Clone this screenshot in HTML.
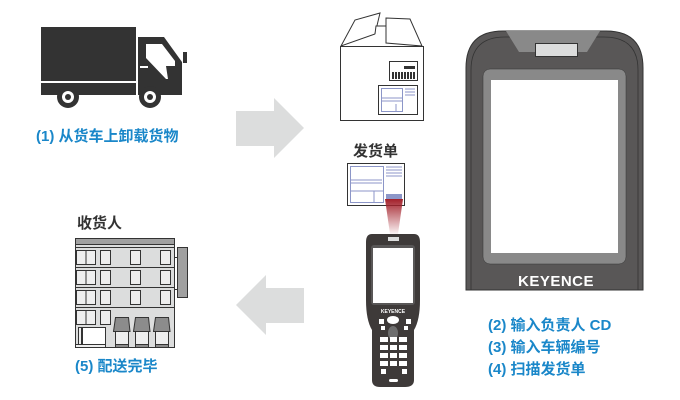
<!DOCTYPE html>
<html><head><meta charset="utf-8"><style>
html,body{margin:0;padding:0;background:#fff;}
svg{display:block}
text{font-family:"Liberation Sans","Noto Sans CJK SC",sans-serif;font-weight:bold;}
</style></head><body>
<svg width="680" height="400" viewBox="0 0 680 400" xmlns="http://www.w3.org/2000/svg">
<!-- Truck -->
<rect x="41" y="27" width="95" height="54" fill="#333"/>
<rect x="41" y="83" width="95" height="12" fill="#333"/>
<path d="M138 37 H164 L182 62 V95 H138 Z" fill="#333"/>
<rect x="183" y="52" width="4" height="11" fill="#333"/>
<path d="M146 44 H162 L175 61 V66 H166 L168 79 H166 L146 58 Z" fill="#fff"/>
<rect x="140" y="66" width="8" height="2" fill="#fff"/>
<circle cx="68" cy="97" r="11" fill="#333"/>
<circle cx="68" cy="97" r="6" fill="#fff"/><circle cx="68" cy="97" r="3" fill="#333"/>
<circle cx="150" cy="97" r="11" fill="#333"/>
<circle cx="150" cy="97" r="6" fill="#fff"/><circle cx="150" cy="97" r="3" fill="#333"/>
<text x="36" y="141" font-size="15" fill="#1a87c9">(1) 从货车上卸载货物</text>

<!-- Arrows -->
<path d="M236 111 H274 V98 L304 128 L274 158 V146 H236 Z" fill="#dcdddd"/>
<path d="M304 288 H266 V275 L236 305 L266 335 V323 H304 Z" fill="#dcdddd"/>

<!-- Box -->
<g stroke="#333" stroke-width="1" fill="#fff">
<path d="M341 46 L355 20 L380 13 L375 34 Z"/>
<path d="M386 18 L410 19 L422 46 L386 43 Z"/>
<path d="M375 34 L376 26 L386 26 L386 43"/>
<rect x="340.5" y="46.5" width="83" height="74"/>
<rect x="389.5" y="61.5" width="28" height="19"/>
<rect x="378.5" y="85.5" width="39" height="29"/>
</g>
<g fill="#333">
<rect x="392" y="72" width="2" height="7"/><rect x="395" y="72" width="2" height="7"/><rect x="398" y="72" width="2" height="7"/><rect x="401" y="72" width="2" height="7"/><rect x="404" y="72" width="2" height="7"/><rect x="407" y="72" width="2" height="7"/><rect x="410" y="72" width="2" height="7"/><rect x="413" y="72" width="2" height="7"/>
<rect x="404" y="66" width="11" height="3"/>
</g>
<g stroke="#8c96c8" stroke-width="1" fill="none">
<rect x="381.5" y="88.5" width="21" height="23"/>
<line x1="381" y1="98" x2="402" y2="98"/><line x1="381" y1="101" x2="402" y2="101"/>
<line x1="396" y1="104" x2="396" y2="112"/>
<line x1="405" y1="89" x2="415" y2="89"/><line x1="405" y1="92" x2="415" y2="92"/><line x1="405" y1="95" x2="415" y2="95"/>
</g>

<!-- Slip -->
<text x="353" y="156" font-size="15" fill="#333">发货单</text>
<rect x="347.5" y="163.5" width="57" height="42" fill="#fff" stroke="#333"/>
<g stroke="#8c96c8" fill="none">
<rect x="350.5" y="166.5" width="33" height="36"/>
<line x1="351" y1="180" x2="382" y2="180"/><line x1="351" y1="183" x2="382" y2="183"/>
<line x1="374" y1="191" x2="374" y2="202"/><line x1="351" y1="191" x2="383" y2="191"/>
<line x1="386" y1="167" x2="402" y2="167"/><line x1="386" y1="170" x2="402" y2="170"/><line x1="386" y1="173" x2="402" y2="173"/><line x1="386" y1="176" x2="402" y2="176"/>
</g>
<g fill="#8c96c8"><rect x="386" y="194" width="16" height="6"/></g>
<defs><linearGradient id="beam" x1="0" y1="0" x2="0" y2="1"><stop offset="0" stop-color="#a3202a"/><stop offset="1" stop-color="#a3202a" stop-opacity="0.05"/></linearGradient></defs>
<path d="M385 199 H403 L398 234 H390 Z" fill="url(#beam)"/>

<!-- Small device -->
<path d="M372 234 H414 Q420 234 420 242 V300 Q420 320 414 330 V380 Q414 387 405 387 H380 Q372 387 372 380 V330 Q366 320 366 300 V242 Q366 234 372 234 Z" fill="#3e3a39"/>
<rect x="388" y="237" width="11" height="4" fill="#dcdddd"/>
<rect x="371" y="245" width="44" height="60" rx="3" fill="#595757"/>
<rect x="373" y="248" width="40" height="55" fill="#fff"/>
<text x="393" y="313" font-size="5" fill="#fff" text-anchor="middle">KEYENCE</text>
<g fill="#fff">
<rect x="379" y="319" width="5" height="5"/><rect x="406" y="319" width="5" height="5"/>
<ellipse cx="393" cy="320" rx="6" ry="4"/>
<rect x="381" y="326" width="4" height="4"/><rect x="404" y="326" width="4" height="4"/>
</g>
<ellipse cx="393" cy="333" rx="5" ry="7" fill="#6e6e6e"/>
<g fill="#fff">
<rect x="380" y="337" width="8" height="5"/><rect x="390" y="337" width="7" height="5"/><rect x="399" y="337" width="8" height="5"/>
<rect x="380" y="345" width="8" height="5"/><rect x="390" y="345" width="7" height="5"/><rect x="399" y="345" width="8" height="5"/>
<rect x="380" y="353" width="8" height="5"/><rect x="390" y="353" width="7" height="5"/><rect x="399" y="353" width="8" height="5"/>
<rect x="380" y="361" width="8" height="5"/><rect x="390" y="361" width="7" height="5"/><rect x="399" y="361" width="8" height="5"/>
<rect x="381" y="369" width="5" height="5"/><rect x="402" y="369" width="5" height="5"/>
<rect x="389" y="379" width="9" height="3" rx="1.5"/>
</g>

<!-- Big device -->
<path d="M466 290 V68 Q466 31 503 31 H606 Q643 31 643 68 V290 Z" fill="#595757" stroke="#333"/>
<path d="M471 290 V70 Q471 37 505 37 H604 Q638 37 638 70 V290" fill="none" stroke="#333" stroke-width="0.8"/>
<path d="M506 31 H600 L587 52 H519 Z" fill="#898989"/>
<rect x="535.5" y="43.5" width="42" height="13" fill="#dcdddd" stroke="#333"/>
<rect x="483" y="69" width="143" height="195" rx="7" fill="#898989" stroke="#333" stroke-width="0.5"/>
<rect x="491" y="80" width="127" height="173" fill="#fff"/>
<text x="556" y="286" font-size="15" fill="#fff" text-anchor="middle" font-weight="normal" letter-spacing="0.5">KEYENCE</text>
<text x="488" y="330" font-size="15" fill="#1a87c9">(2) 输入负责人 CD</text>
<text x="488" y="352" font-size="15" fill="#1a87c9">(3) 输入车辆编号</text>
<text x="488" y="374" font-size="15" fill="#1a87c9">(4) 扫描发货单</text>

<!-- Building -->
<text x="77" y="228" font-size="15" fill="#333">收货人</text>
<rect x="75.5" y="238.5" width="99" height="109" fill="#dcdddd" stroke="#333"/>
<rect x="75.5" y="238.5" width="99" height="6" fill="#a0a0a0" stroke="#333"/>
<g stroke="#333" fill="none">
<line x1="75" y1="247.5" x2="175" y2="247.5"/>
<line x1="75" y1="267.5" x2="175" y2="267.5"/>
<line x1="75" y1="287.5" x2="175" y2="287.5"/>
<line x1="75" y1="307.5" x2="175" y2="307.5"/>
</g>
<g fill="#eee" stroke="#333">
<rect x="76.5" y="250.5" width="19" height="14"/><rect x="86" y="250.5" width="9.5" height="14"/>
<rect x="100.5" y="250.5" width="10" height="14"/><rect x="130.5" y="250.5" width="10" height="14"/><rect x="160.5" y="250.5" width="10" height="14"/>
<rect x="76.5" y="270.5" width="19" height="14"/><rect x="86" y="270.5" width="9.5" height="14"/>
<rect x="100.5" y="270.5" width="10" height="14"/><rect x="130.5" y="270.5" width="10" height="14"/><rect x="160.5" y="270.5" width="10" height="14"/>
<rect x="76.5" y="290.5" width="19" height="14"/><rect x="86" y="290.5" width="9.5" height="14"/>
<rect x="100.5" y="290.5" width="10" height="14"/><rect x="130.5" y="290.5" width="10" height="14"/><rect x="160.5" y="290.5" width="10" height="14"/>
<rect x="76.5" y="310.5" width="19" height="14"/><rect x="86" y="310.5" width="9.5" height="14"/>
<rect x="100.5" y="310.5" width="10" height="14"/>
<rect x="82.5" y="327.5" width="23" height="17" fill="#fff"/>
<rect x="78.5" y="327.5" width="3" height="17"/>
<rect x="75.5" y="344.5" width="30" height="3"/>
<rect x="115.5" y="328.5" width="13" height="16"/><rect x="135.5" y="328.5" width="13" height="16"/><rect x="155.5" y="328.5" width="13" height="16"/>
</g>
<g fill="#8c8c8c" stroke="#333">
<path d="M115.5 317.5 H128.5 L130 331.5 H113.5 Z"/>
<path d="M135.5 317.5 H148.5 L150 331.5 H133.5 Z"/>
<path d="M155.5 317.5 H168.5 L170 331.5 H153.5 Z"/>
<rect x="115.5" y="344.5" width="13" height="3"/><rect x="135.5" y="344.5" width="13" height="3"/><rect x="155.5" y="344.5" width="13" height="3"/>
<rect x="177.5" y="247.5" width="10" height="50" fill="#a0a0a0"/>
</g>
<g stroke="#333"><line x1="175" y1="257.5" x2="177" y2="257.5"/><line x1="175" y1="289.5" x2="177" y2="289.5"/></g>
<text x="75" y="371" font-size="15" fill="#1a87c9">(5) 配送完毕</text>
</svg>
</body></html>
